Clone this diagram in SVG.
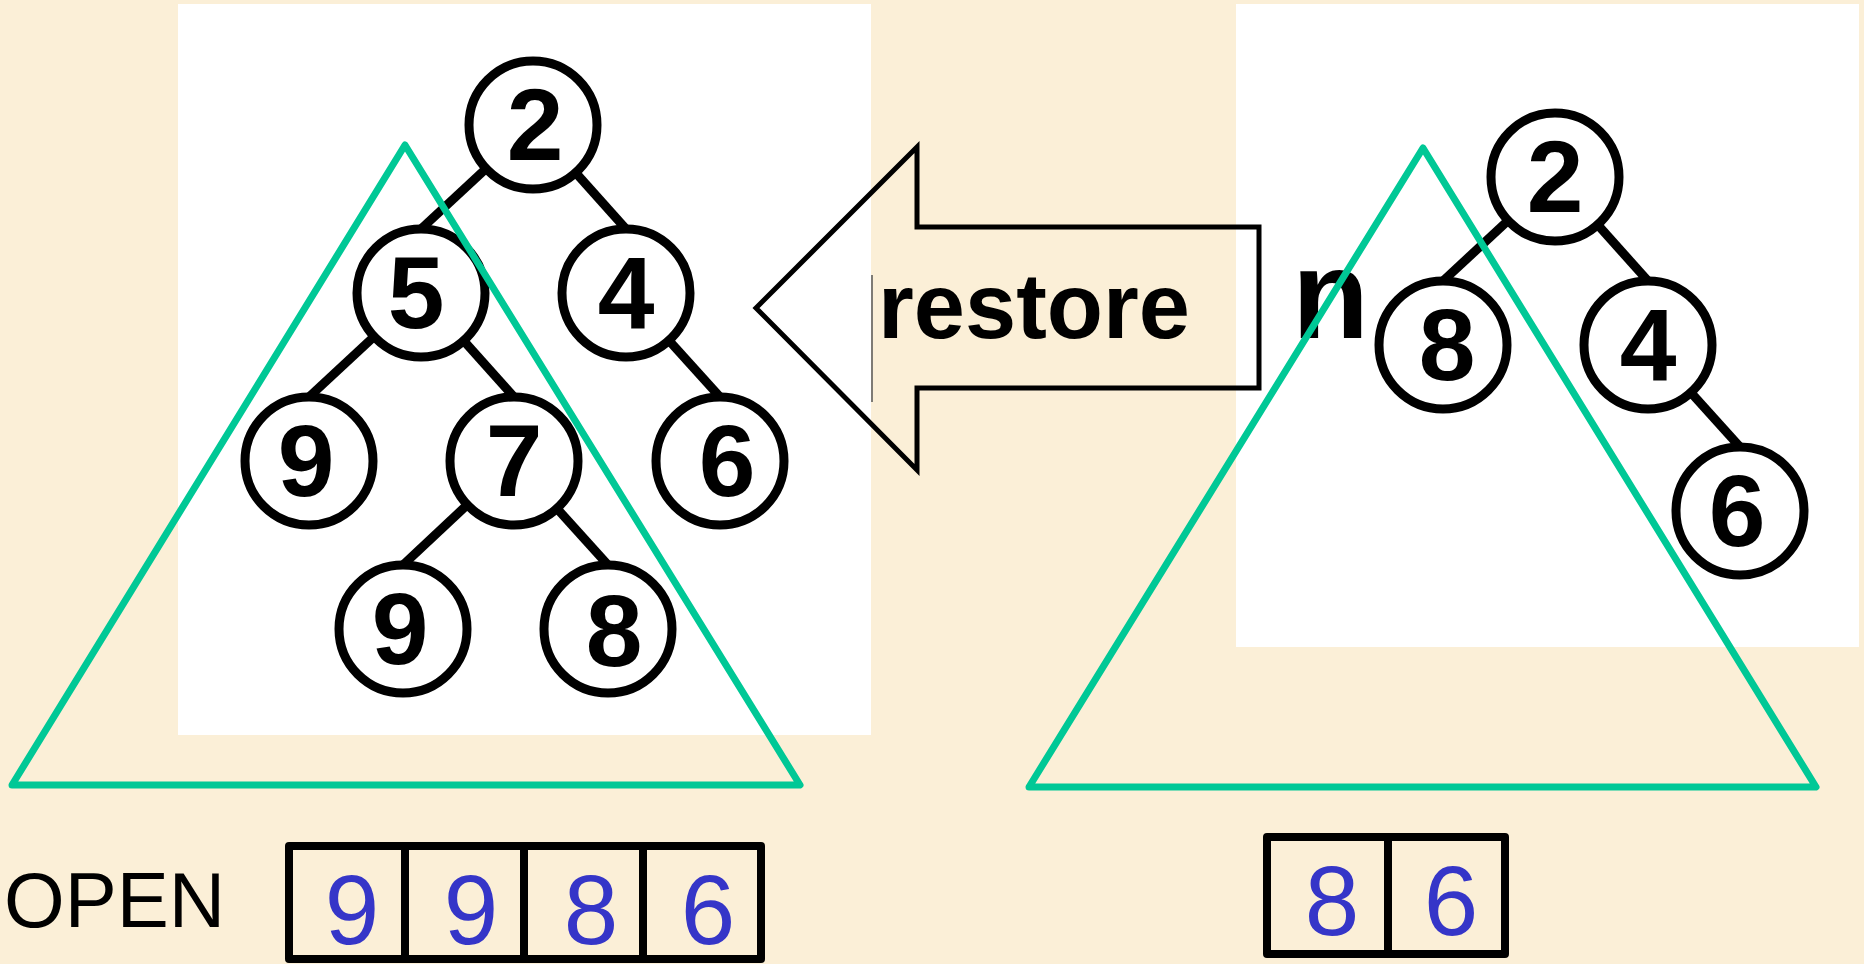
<svg xmlns="http://www.w3.org/2000/svg" width="1864" height="964" viewBox="0 0 1864 964">
  <defs>
    <style>
      .panel { fill: #ffffff; }
      .edge { stroke: #000; stroke-width: 9; }
      .node circle { fill: #fff; stroke: #000; stroke-width: 9; }
      .node text { font-family: "Liberation Sans", Arial, sans-serif; font-weight: bold; font-size: 102px; text-anchor: middle; fill: #000; }
      .tri { fill: none; stroke: #00C896; stroke-width: 7; stroke-linejoin: round; }
      .arrow { fill: none; stroke: #000; stroke-width: 5; stroke-linejoin: miter; }
      .label { font-family: "Liberation Sans", Arial, sans-serif; font-weight: bold; fill: #000; }
      .cells { fill: none; stroke: #000; stroke-width: 8; stroke-linejoin: round; }
      .val { font-family: "Liberation Sans", Arial, sans-serif; font-size: 98px; fill: #3535C8; text-anchor: middle; }
    </style>
  </defs>

  <!-- parchment background -->
  <rect x="0" y="0" width="1864" height="964" fill="#FBEFD7"/>

  <!-- white tree panels -->
  <rect class="panel" x="178" y="4" width="693" height="731"/>
  <rect class="panel" x="1236" y="4" width="623" height="643"/>

  <!-- left tree -->
  <g id="connectors-left">
    <line class="edge" x1="533" y1="125" x2="421" y2="229"/>
    <line class="edge" x1="533" y1="125" x2="626" y2="229"/>
    <line class="edge" x1="421" y1="293" x2="309" y2="397"/>
    <line class="edge" x1="421" y1="293" x2="514" y2="397"/>
    <line class="edge" x1="626" y1="293" x2="720" y2="397"/>
    <line class="edge" x1="514" y1="461" x2="403" y2="565"/>
    <line class="edge" x1="514" y1="461" x2="608" y2="565"/>
  </g>
  <g id="L2" class="node"><circle cx="533" cy="125" r="64"/><text x="535" y="160">2</text></g>
  <g id="L5" class="node"><circle cx="421" cy="293" r="64"/><text x="416" y="328">5</text></g>
  <g id="L4" class="node"><circle cx="626" cy="293" r="64"/><text x="626" y="328">4</text></g>
  <g id="L9a" class="node"><circle cx="309" cy="461" r="64"/><text x="306" y="496">9</text></g>
  <g id="L7" class="node"><circle cx="514" cy="461" r="64"/><text x="514" y="496">7</text></g>
  <g id="L6" class="node"><circle cx="720" cy="461" r="64"/><text x="727" y="496">6</text></g>
  <g id="L9b" class="node"><circle cx="403" cy="629" r="64"/><text x="400" y="664">9</text></g>
  <g id="L8" class="node"><circle cx="608" cy="629" r="64"/><text x="614" y="666">8</text></g>

  <!-- right tree -->
  <g id="connectors-right">
    <line class="edge" x1="1555" y1="177" x2="1443" y2="281"/>
    <line class="edge" x1="1555" y1="177" x2="1648" y2="281"/>
    <line class="edge" x1="1648" y1="345" x2="1740" y2="447"/>
  </g>
  <g id="R2" class="node"><circle cx="1555" cy="177" r="64"/><text x="1555" y="212">2</text></g>
  <g id="R8" class="node"><circle cx="1443" cy="345" r="64"/><text x="1447" y="380">8</text></g>
  <g id="R4" class="node"><circle cx="1648" cy="345" r="64"/><text x="1648" y="380">4</text></g>
  <g id="R6" class="node"><circle cx="1740" cy="511" r="64"/><text x="1737" y="546">6</text></g>

  <text class="label" x="1292" y="338" font-size="126">n</text>

  <!-- restore arrow -->
  <g id="restore">
    <polygon class="arrow" points="756,308 917,147 917,227 1259,227 1259,388 917,388 917,470"/>
    <line x1="872" y1="275" x2="872" y2="402" stroke="#555" stroke-width="1.5"/>
    <text class="label" x="878" y="338" font-size="92">restore</text>
  </g>

  <!-- subtree outlines -->
  <polygon class="tri" points="405,145 800,785 12,785"/>
  <polygon class="tri" points="1423,148 1816,787 1029,787"/>

  <!-- OPEN list -->
  <text x="4" y="927" font-family="Liberation Sans, Arial, sans-serif" font-size="78" fill="#000">OPEN</text>
  <g id="open-list">
    <rect class="cells" x="289" y="846" width="472" height="113"/>
    <line class="cells" x1="405" y1="846" x2="405" y2="959"/>
    <line class="cells" x1="524" y1="846" x2="524" y2="959"/>
    <line class="cells" x1="643" y1="846" x2="643" y2="959"/>
    <text class="val" x="352" y="944">9</text>
    <text class="val" x="471" y="944">9</text>
    <text class="val" x="591" y="944">8</text>
    <text class="val" x="708" y="944">6</text>
  </g>

  <g id="second-list">
    <rect class="cells" x="1267" y="837" width="238" height="117"/>
    <line class="cells" x1="1388" y1="837" x2="1388" y2="954"/>
    <text class="val" x="1332" y="935">8</text>
    <text class="val" x="1451" y="935">6</text>
  </g>
</svg>
